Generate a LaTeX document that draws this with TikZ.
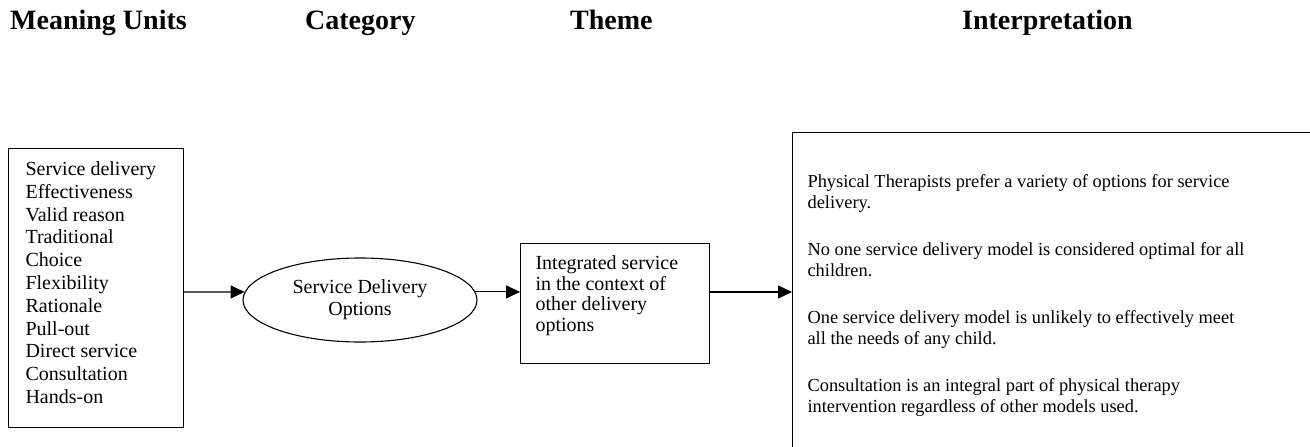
\documentclass[tikz,border=0pt]{standalone}
\usepackage{fontspec}
\setmainfont{Liberation Serif}
\usetikzlibrary{shapes.geometric,arrows.meta}
\begin{document}
\begin{tikzpicture}[x=1pt,y=-1pt,
  hdr/.style={font=\fontsize{28}{30}\selectfont\bfseries, anchor=base west, inner sep=0pt},
  boxed/.style={draw, line width=1.1pt, inner sep=0pt, anchor=north west},
  body/.style={font=\fontsize{20}{22}\selectfont},
  small/.style={font=\fontsize{18.4}{21}\selectfont},
  arr/.style={line width=1.1pt, -{Triangle[length=14pt,width=13pt]}}
]
\useasboundingbox (0,0) rectangle (1310,447);
\clip (0,0) rectangle (1310,447);

% column headings
\node[hdr] (h1) at (10,30) {Meaning Units};
\node[hdr] (h2) at (305,30) {Category};
\node[hdr] (h3) at (570,30) {Theme};
\node[hdr] (h4) at (962,30) {Interpretation};

% meaning units
\node[boxed, body] (mu) at (8,148) {\hspace{17pt}\parbox[c][279pt][t]{158pt}{\raggedright\baselineskip=22.8pt
  \rule{0pt}{27pt}Service delivery\\
  Effectiveness\\
  Valid reason\\
  Traditional\\
  Choice\\
  Flexibility\\
  Rationale\\
  Pull-out\\
  Direct service\\
  Consultation\\
  Hands-on}};

% category
\node[ellipse, draw, line width=1.1pt, minimum width=234pt, minimum height=84pt,
      inner sep=0pt, align=center, font=\fontsize{20}{22}\selectfont] (cat) at (360,300)
  {Service Delivery\\Options};

% theme
\node[boxed, body] (th) at (520,243) {\hspace{15pt}\parbox[c][120pt][t]{174pt}{\raggedright\baselineskip=20.7pt
  \rule{0pt}{26pt}Integrated service\\
  in the context of\\
  other delivery\\
  options}};

% interpretation
\node[boxed, small] (ip) at (792,132) {\hspace{15pt}\parbox[c][330pt][t]{520pt}{\raggedright\baselineskip=21pt
  \rule{0pt}{55pt}Physical Therapists prefer a variety of options for service\\
  delivery.\\[26pt]
  No one service delivery model is considered optimal for all\\
  children.\\[26pt]
  One service delivery model is unlikely to effectively meet\\
  all the needs of any child.\\[26pt]
  Consultation is an integral part of physical therapy\\
  intervention regardless of other models used.}};

% connectors
\coordinate (row) at (0,292);
\draw[arr] (mu.east |- row) -- (cat.176);
\draw[arr] (cat.4) -- (th.west |- cat.4);
\draw[arr] (th.east |- row) -- (ip.west |- row);
\end{tikzpicture}
\end{document}
